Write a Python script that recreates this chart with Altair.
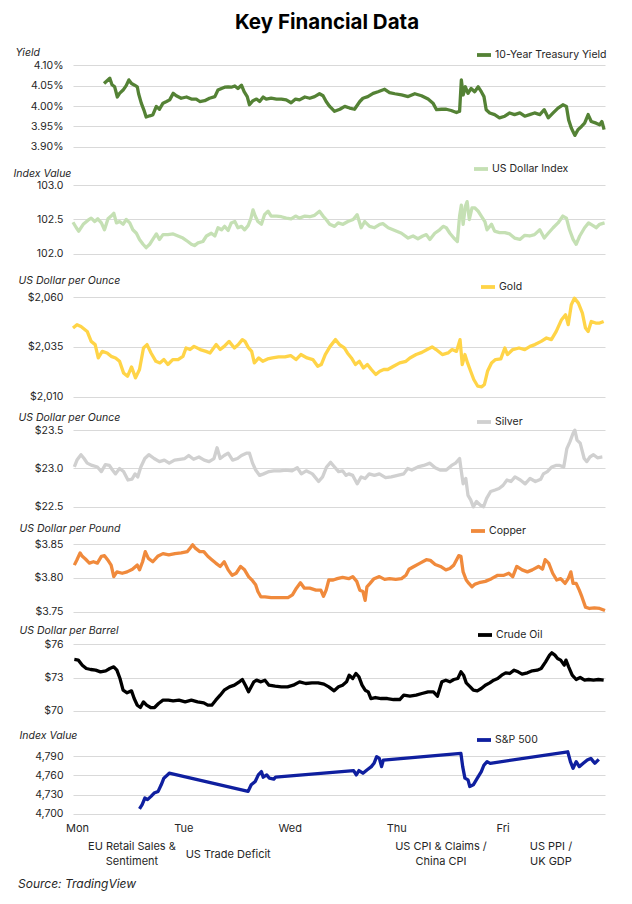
import json
import altair as alt
import pandas as pd

FONT = "Inter"
TEXT = "#262626"

title_text = "Key Financial Data"
source_text = "Source: TradingView"
day_labels = ["Mon", "Tue", "Wed", "Thu", "Fri"]
day_hours = [0, 24, 48, 72, 96]
event_labels = ["EU Retail Sales &\nSentiment", "US Trade Deficit",
                "US CPI & Claims /\nChina CPI", "US PPI /\nUK GDP"]
event_hours = [13.3, 35.0, 83.0, 107.8]

# (hours since Monday 00:00, value)
treasury = [(7.0,4.055),(7.5,4.060),(8.3,4.068),(8.8,4.052),(9.4,4.047),(10.0,4.022),(10.5,4.031),(11.3,4.039),(12.0,4.050),(12.6,4.064),(13.2,4.055),(13.9,4.051),(14.5,4.047),(14.8,4.030),(15.4,4.007),(16.0,3.990),(16.5,3.973),(17.3,3.976),(18.0,3.978),(18.8,3.999),(19.5,3.992),(20.3,4.007),(21.1,4.011),(21.8,4.015),(22.6,4.031),(23.3,4.025),(24.4,4.019),(25.6,4.022),(26.7,4.017),(27.8,4.017),(28.6,4.011),(29.7,4.013),(30.8,4.019),(32.0,4.023),(32.7,4.039),(33.5,4.043),(34.2,4.046),(35.0,4.047),(35.7,4.046),(36.5,4.049),(37.2,4.043),(38.0,4.051),(38.6,4.035),(39.3,4.023),(39.8,4.003),(40.6,4.013),(41.4,4.017),(42.1,4.011),(42.9,4.022),(43.6,4.017),(44.7,4.019),(45.9,4.017),(47.0,4.017),(48.1,4.015),(49.2,4.008),(50.2,4.017),(51.1,4.015),(52.3,4.022),(53.4,4.019),(54.5,4.023),(55.6,4.030),(56.4,4.025),(57.1,4.011),(57.9,3.999),(59.0,3.987),(60.2,3.992),(61.3,3.999),(62.4,3.995),(63.5,3.992),(64.7,4.011),(65.4,4.019),(66.5,4.023),(67.7,4.031),(68.8,4.035),(70.3,4.041),(71.4,4.033),(72.6,4.030),(74.1,4.027),(75.6,4.023),(77.1,4.030),(78.6,4.025),(80.1,4.017),(81.2,4.007),(82.0,3.991),(83.1,3.992),(84.2,3.992),(85.3,3.989),(86.5,3.984),(87.2,3.987),(87.6,4.064),(88.0,4.027),(88.5,4.047),(89.1,4.031),(89.8,4.043),(90.6,4.035),(91.4,4.047),(92.1,4.035),(92.7,4.023),(93.2,3.991),(94.0,3.983),(95.1,3.979),(96.2,3.971),(97.4,3.975),(98.5,3.983),(99.6,3.979),(100.8,3.983),(101.9,3.975),(103.0,3.979),(104.1,3.983),(105.3,3.979),(106.3,3.991),(107.2,3.971),(108.3,3.983),(109.4,3.995),(110.5,4.003),(111.3,3.999),(111.8,3.966),(112.4,3.946),(113.2,3.928),(113.9,3.942),(114.7,3.950),(115.4,3.958),(116.2,3.979),(116.9,3.962),(118.0,3.958),(118.8,3.954),(119.3,3.962),(119.8,3.942)]

dollar_index = [(0.0,102.46),(0.75,102.38),(1.3,102.33),(2.3,102.43),(3.4,102.49),(4.1,102.52),(4.9,102.47),(5.6,102.51),(6.4,102.45),(7.1,102.35),(7.9,102.51),(8.6,102.55),(9.2,102.59),(9.8,102.45),(10.5,102.47),(11.3,102.43),(12.0,102.50),(12.8,102.45),(13.5,102.35),(14.3,102.30),(15.0,102.21),(15.8,102.14),(16.5,102.09),(17.3,102.14),(18.0,102.21),(18.8,102.29),(19.5,102.21),(20.3,102.28),(21.4,102.28),(22.6,102.29),(23.7,102.26),(24.8,102.23),(25.9,102.18),(26.7,102.14),(27.4,102.12),(28.2,102.16),(29.3,102.18),(30.1,102.26),(31.2,102.30),(32.0,102.26),(32.7,102.38),(33.5,102.35),(34.2,102.40),(35.0,102.34),(35.7,102.45),(36.5,102.47),(37.2,102.38),(38.0,102.40),(38.7,102.35),(39.5,102.41),(40.1,102.51),(40.6,102.64),(41.1,102.55),(41.7,102.47),(42.5,102.43),(43.2,102.57),(44.0,102.62),(44.7,102.55),(45.9,102.55),(47.0,102.54),(48.1,102.52),(49.2,102.51),(50.2,102.55),(51.1,102.52),(52.3,102.55),(53.4,102.54),(54.5,102.56),(55.6,102.62),(56.4,102.55),(57.1,102.50),(57.9,102.43),(59.0,102.40),(59.8,102.45),(60.9,102.43),(62.0,102.47),(63.2,102.50),(64.1,102.57),(65.0,102.38),(65.8,102.47),(66.9,102.40),(68.0,102.38),(69.2,102.43),(69.9,102.44),(71.1,102.38),(72.6,102.34),(74.1,102.30),(75.6,102.23),(76.7,102.26),(77.8,102.22),(78.9,102.26),(79.7,102.28),(80.5,102.21),(81.6,102.30),(82.7,102.35),(83.5,102.40),(84.2,102.38),(85.0,102.30),(85.9,102.23),(86.7,102.18),(87.2,102.55),(87.6,102.71),(88.0,102.43),(88.5,102.69),(88.9,102.76),(89.4,102.50),(90.0,102.67),(90.6,102.67),(91.4,102.62),(92.1,102.55),(92.9,102.47),(93.4,102.35),(94.4,102.43),(95.1,102.33),(96.2,102.31),(97.4,102.31),(98.5,102.29),(99.6,102.23),(100.8,102.21),(101.9,102.27),(103.0,102.26),(104.1,102.28),(105.3,102.35),(106.3,102.23),(107.2,102.30),(108.3,102.38),(109.4,102.45),(110.5,102.55),(111.3,102.52),(112.0,102.35),(112.8,102.21),(113.5,102.14),(114.3,102.26),(115.4,102.38),(116.3,102.45),(117.3,102.41),(118.0,102.38),(118.8,102.43),(119.9,102.45)]

gold = [(0.0,2044.5),(0.9,2046.2),(1.8,2045.3),(3.2,2042.8),(4.1,2037.8),(5.0,2036.2),(5.7,2029.5),(6.6,2032.8),(7.7,2032.0),(8.6,2030.3),(9.6,2029.5),(10.5,2027.8),(11.4,2022.0),(12.3,2020.3),(13.2,2025.0),(14.1,2019.5),(15.0,2023.7),(15.9,2034.5),(16.7,2036.2),(17.6,2032.0),(18.7,2027.8),(19.6,2027.0),(20.5,2028.7),(21.4,2026.2),(22.5,2028.7),(23.7,2028.7),(24.8,2030.3),(25.5,2034.5),(26.4,2033.7),(27.3,2035.3),(28.7,2033.7),(30.0,2032.8),(30.9,2032.0),(32.3,2036.2),(33.2,2033.7),(34.1,2035.3),(35.2,2037.8),(36.4,2034.5),(37.3,2036.2),(38.2,2038.7),(38.8,2037.8),(39.6,2034.5),(40.3,2032.8),(40.9,2027.0),(41.9,2029.5),(42.8,2027.8),(43.9,2029.0),(45.0,2029.5),(46.4,2030.0),(47.8,2030.0),(49.1,2030.7),(50.3,2028.7),(51.4,2031.2),(52.8,2029.5),(54.1,2028.7),(55.2,2025.3),(56.0,2026.2),(56.9,2031.2),(58.0,2035.3),(59.2,2038.7),(60.1,2036.2),(61.2,2034.5),(61.9,2032.0),(62.8,2029.5),(63.7,2026.2),(64.6,2027.8),(65.5,2024.5),(66.4,2026.2),(67.3,2023.7),(68.3,2021.2),(69.2,2022.8),(70.1,2023.7),(71.0,2023.7),(72.3,2025.3),(73.7,2027.0),(75.1,2027.8),(76.0,2029.5),(77.4,2031.2),(78.7,2032.3),(80.1,2034.0),(81.0,2035.0),(81.9,2033.7),(83.3,2031.2),(84.6,2032.0),(85.5,2033.7),(86.5,2032.8),(87.3,2038.7),(87.8,2026.2),(88.4,2031.2),(89.0,2027.0),(89.7,2022.8),(90.4,2018.7),(91.3,2015.3),(92.2,2015.0),(92.8,2016.2),(93.5,2022.8),(94.4,2027.0),(95.3,2028.7),(96.5,2029.0),(97.4,2034.5),(98.0,2031.2),(99.2,2033.7),(100.6,2034.5),(101.9,2033.7),(103.1,2035.3),(104.2,2036.2),(105.6,2037.8),(106.8,2039.5),(107.9,2038.7),(109.0,2042.8),(110.2,2048.7),(111.1,2051.2),(111.7,2046.2),(112.4,2056.2),(113.1,2059.5),(114.0,2057.0),(114.9,2052.0),(115.6,2044.5),(116.2,2042.8),(116.9,2047.8),(117.9,2047.0),(118.8,2047.0),(119.7,2047.8)]

silver = [(0.3,23.02),(0.9,23.11),(1.8,23.18),(2.5,23.13),(3.2,23.07),(4.3,23.04),(5.5,23.02),(6.4,22.96),(7.3,23.05),(8.2,23.04),(8.9,22.98),(9.6,22.93),(10.5,23.00),(11.4,22.96),(12.4,22.85),(13.3,22.86),(14.0,22.93),(14.6,22.89),(15.3,23.02),(16.2,23.13),(17.1,23.18),(18.3,23.13),(19.5,23.09),(20.6,23.11),(21.7,23.07),(22.9,23.11),(24.1,23.12),(25.2,23.13),(26.1,23.17),(27.2,23.12),(28.4,23.15),(29.6,23.11),(30.7,23.09),(31.8,23.13),(32.5,23.27),(33.2,23.13),(34.1,23.17),(35.0,23.20),(36.0,23.11),(37.1,23.13),(38.0,23.17),(39.1,23.20),(39.8,23.20),(40.5,23.07),(41.2,22.98),(42.1,22.91),(43.0,22.93),(44.2,22.96),(45.3,22.97),(46.7,22.97),(48.0,22.98),(49.4,22.97),(50.6,23.01),(51.5,22.93),(52.6,22.97),(54.0,22.93),(55.4,22.83),(56.3,22.89),(57.2,23.02),(58.1,23.08),(59.0,23.02),(59.9,22.96),(60.8,22.97),(61.6,22.91),(62.2,22.93),(63.1,22.91),(64.1,22.80),(65.0,22.89),(65.9,22.87),(66.8,22.93),(68.0,22.91),(69.1,22.93),(70.5,22.88),(71.8,22.89),(73.2,22.91),(74.6,22.93),(75.5,23.00),(76.4,22.98),(77.8,23.02),(79.1,23.04),(80.5,23.07),(81.7,23.01),(82.8,22.98),(84.2,22.98),(85.4,23.04),(86.3,23.07),(87.2,23.13),(87.6,22.96),(88.0,22.80),(88.6,22.87),(89.1,22.65),(89.7,22.59),(90.3,22.50),(91.0,22.57),(91.9,22.52),(92.6,22.50),(93.3,22.61),(94.2,22.70),(95.2,22.72),(96.1,22.74),(97.0,22.78),(97.9,22.85),(98.8,22.83),(99.7,22.89),(100.9,22.85),(102.0,22.80),(103.1,22.87),(104.3,22.83),(105.5,22.86),(106.1,22.93),(107.0,22.96),(108.0,23.02),(108.9,23.04),(109.8,23.04),(110.7,23.02),(111.4,23.26),(112.1,23.35),(112.8,23.46),(113.2,23.50),(113.7,23.37),(114.4,23.33),(115.3,23.13),(115.9,23.09),(116.6,23.15),(117.4,23.18),(118.3,23.14),(119.4,23.15)]

copper = [(0.3,3.819),(0.9,3.827),(1.6,3.837),(2.1,3.832),(2.8,3.828),(3.7,3.822),(4.6,3.824),(5.5,3.822),(6.4,3.832),(7.1,3.833),(7.8,3.827),(8.6,3.819),(9.2,3.802),(9.9,3.809),(11.1,3.807),(12.2,3.809),(13.4,3.813),(14.5,3.819),(15.0,3.812),(15.7,3.824),(16.3,3.839),(17.0,3.829),(18.0,3.824),(19.1,3.832),(20.3,3.836),(21.6,3.834),(23.0,3.836),(24.4,3.837),(25.8,3.839),(26.4,3.844),(27.0,3.849),(27.6,3.844),(28.6,3.839),(29.5,3.839),(30.4,3.832),(31.3,3.827),(32.2,3.822),(33.2,3.817),(34.1,3.824),(35.0,3.812),(35.9,3.804),(36.8,3.807),(37.8,3.817),(38.7,3.812),(39.6,3.802),(40.5,3.796),(41.2,3.790),(41.7,3.780),(42.4,3.772),(43.3,3.772),(44.7,3.771),(46.1,3.771),(47.4,3.771),(48.5,3.771),(49.5,3.775),(50.4,3.785),(51.3,3.793),(52.2,3.785),(53.4,3.785),(54.8,3.782),(55.9,3.782),(56.5,3.773),(57.1,3.782),(57.7,3.797),(58.7,3.797),(59.6,3.799),(60.8,3.801),(62.2,3.799),(63.1,3.802),(64.0,3.795),(64.7,3.782),(65.4,3.780),(65.9,3.767),(66.3,3.787),(67.0,3.792),(67.9,3.799),(69.1,3.802),(70.3,3.798),(71.4,3.799),(72.8,3.798),(74.1,3.799),(75.1,3.804),(75.8,3.813),(76.9,3.817),(78.3,3.822),(79.7,3.827),(80.6,3.826),(81.7,3.820),(82.9,3.817),(84.1,3.812),(85.0,3.814),(85.9,3.819),(87.0,3.833),(87.5,3.832),(88.0,3.809),(88.7,3.797),(89.3,3.792),(90.0,3.787),(90.7,3.791),(91.6,3.793),(93.0,3.795),(94.4,3.799),(95.8,3.804),(97.2,3.804),(98.3,3.807),(99.2,3.802),(100.1,3.817),(101.3,3.812),(102.5,3.809),(103.6,3.812),(105.0,3.817),(105.9,3.813),(106.5,3.827),(107.3,3.822),(108.2,3.807),(109.1,3.797),(110.0,3.799),(111.0,3.792),(111.7,3.799),(112.3,3.809),(112.8,3.792),(113.5,3.792),(114.2,3.782),(114.8,3.772),(115.6,3.757),(116.5,3.755),(117.6,3.756),(118.8,3.755),(120.0,3.752)]

crude_oil = [(0.3,74.62),(1.2,74.56),(2.1,74.11),(3.0,73.81),(4.0,73.72),(5.1,73.66),(6.2,73.51),(7.4,73.60),(8.3,73.81),(9.2,73.96),(9.9,73.66),(10.6,72.91),(11.3,71.86),(12.2,71.62),(13.2,71.80),(13.8,71.11),(14.5,70.51),(15.2,70.30),(15.9,70.81),(16.6,70.51),(17.5,70.30),(18.4,70.30),(19.3,70.66),(20.3,70.96),(21.5,70.96),(22.6,70.90),(23.9,70.96),(25.3,70.81),(26.7,70.96),(28.1,70.81),(29.5,70.72),(30.4,70.51),(31.3,70.51),(32.2,70.96),(33.2,71.41),(34.1,71.86),(35.3,72.16),(36.4,72.31),(37.5,72.61),(38.2,72.82),(39.0,72.22),(39.6,71.71),(40.2,72.16),(40.8,72.61),(41.4,72.76),(42.4,72.61),(43.3,72.76),(44.2,72.31),(45.6,72.22),(47.0,72.16),(48.4,72.16),(49.7,72.31),(51.1,72.61),(52.5,72.46),(53.9,72.52),(55.3,72.52),(56.6,72.40),(57.7,72.16),(58.9,71.80),(59.9,72.16),(60.8,72.31),(61.7,72.61),(62.3,73.21),(63.1,72.91),(63.8,73.36),(64.5,73.06),(65.2,72.31),(65.9,71.86),(66.6,71.71),(67.2,71.11),(68.2,71.20),(69.5,71.11),(70.9,71.11),(72.3,71.02),(73.7,71.02),(74.6,71.41),(76.0,71.32),(77.4,71.41),(78.7,71.56),(80.1,71.71),(81.3,71.71),(82.2,71.32),(83.2,72.61),(84.1,72.76),(85.0,72.61),(85.9,72.82),(86.8,72.91),(87.5,73.51),(88.1,73.21),(88.7,72.52),(89.6,72.16),(90.3,71.86),(91.2,71.80),(92.1,72.01),(93.0,72.31),(94.0,72.52),(94.9,72.76),(95.8,72.91),(96.7,73.21),(97.6,73.42),(98.5,73.36),(99.5,73.66),(100.4,73.51),(101.3,73.30),(102.5,73.42),(103.6,73.60),(104.7,73.66),(105.6,73.81),(106.6,74.41),(107.5,75.01),(108.0,75.22),(108.7,75.01),(109.3,74.71),(110.0,74.56),(110.8,74.11),(111.2,74.56),(111.8,73.96),(112.6,73.21),(113.5,72.82),(114.4,73.00),(115.4,72.76),(116.3,72.82),(117.4,72.76),(118.5,72.82),(119.7,72.76)]

sp500 = [(15.0,4707.8),(15.6,4714.4),(16.2,4724.7),(16.8,4722.2),(17.6,4727.3),(18.3,4732.4),(19.2,4735.0),(19.9,4745.3),(20.5,4755.6),(21.1,4759.2),(21.7,4763.3),
         (39.5,4735.0),(40.2,4745.3),(41.1,4750.4),(41.8,4760.7),(42.5,4765.8),(42.9,4757.1),(43.7,4760.7),(44.3,4755.6),(45.3,4754.0),(45.7,4757.1),
         (63.3,4767.4),(63.9,4760.7),(64.5,4767.4),(65.4,4763.3),(66.3,4768.4),(67.3,4773.6),(67.9,4778.7),(68.5,4789.0),(69.1,4786.4),(69.6,4773.6),(70.0,4783.8),
         (87.5,4794.1),(87.9,4773.6),(88.4,4755.6),(89.1,4753.0),(89.5,4742.7),(90.3,4745.3),(91.2,4755.6),(92.1,4765.8),(92.7,4776.1),(93.4,4781.3),(94.1,4778.7),
         (111.6,4796.7),(112.2,4781.3),(112.8,4771.0),(113.5,4781.3),(114.2,4773.6),(115.1,4778.7),(116.0,4783.8),(116.8,4786.4),(117.7,4778.7),(118.6,4784.9)]

# ---- layout (page pixels) ----
PLOT_LEFT = 75
PLOT_W = 532
SPACING = 32

panels = [
    dict(data=treasury, name="10-Year Treasury Yield", color="#548235", title="Yield",
         ticks=[3.90, 3.95, 4.00, 4.05, 4.10], lo=3.90, hi=4.10, top=65, bottom=147,
         tx=17, ty=52, lx=477, ly=53, expr="format(datum.value, '.2f') + '%'"),
    dict(data=dollar_index, name="US Dollar Index", color="#c5e0b4", title="Index Value",
         ticks=[102.0, 102.5, 103.0], lo=102.0, hi=103.0, top=185, bottom=254,
         tx=15, ty=173, lx=474, ly=167, fmt=".1f"),
    dict(data=gold, name="Gold", color="#ffd447", title="US Dollar per Ounce",
         ticks=[2010, 2035, 2060], lo=2010, hi=2060, top=297, bottom=397,
         tx=20, ty=280, lx=481, ly=285, fmt="$,.0f"),
    dict(data=silver, name="Silver", color="#d0d0d0", title="US Dollar per Ounce",
         ticks=[22.5, 23.0, 23.5], lo=22.5, hi=23.5, top=430, bottom=507,
         tx=20, ty=417, lx=477, ly=420, fmt="$.1f"),
    dict(data=copper, name="Copper", color="#f08a3c", title="US Dollar per Pound",
         ticks=[3.75, 3.80, 3.85], lo=3.75, hi=3.85, top=544, bottom=612,
         tx=21, ty=528, lx=471, ly=529, fmt="$.2f"),
    dict(data=crude_oil, name="Crude Oil", color="#000000", title="US Dollar per Barrel",
         ticks=[70, 73, 76], lo=70, hi=76, top=644, bottom=711,
         tx=21, ty=630, lx=478, ly=633, fmt="$.0f"),
    dict(data=sp500, name="S&P 500", color="#0f1f9f", title="Index Value",
         ticks=[4700, 4730, 4760, 4790], lo=4700, hi=4790, top=756, bottom=814,
         tx=21, ty=735, lx=477, ly=738, fmt=",.0f"),
]

day_expr = json.dumps(day_labels) + "[round(datum.value / 24)]"

charts = []
prev_bottom = None
for i, p in enumerate(panels):
    frame_top = p["top"] if prev_bottom is None else prev_bottom + SPACING
    prev_bottom = p["bottom"]
    span = p["bottom"] - p["top"]
    ext = (p["top"] - frame_top) / span * (p["hi"] - p["lo"])
    eps = (p["hi"] - p["lo"]) * 0.002
    height = p["bottom"] - frame_top
    last = i == len(panels) - 1

    df = pd.DataFrame(p["data"], columns=["h", "v"])
    df["s"] = p["name"]

    yaxis_kw = dict(values=p["ticks"], title=p["title"], titleAngle=0, titleAlign="left",
                    titleBaseline="middle", titleX=p["tx"] - PLOT_LEFT, titleY=p["ty"] - frame_top,
                    grid=True, domain=False, ticks=False)
    if "expr" in p:
        yaxis_kw["labelExpr"] = p["expr"]
    else:
        yaxis_kw["format"] = p["fmt"]

    if last:
        xaxis = alt.Axis(values=day_hours, labelExpr=day_expr, grid=False, domain=False,
                         ticks=False, title=None, labelPadding=8, tickOffset=4,
                         labelFlush=False, labelFontSize=11)
    else:
        xaxis = None

    line = alt.Chart(df).mark_line(strokeWidth=3.3, strokeJoin="round").encode(
        x=alt.X("h:Q", scale=alt.Scale(domain=[0, 120], nice=False, zero=False), axis=xaxis),
        y=alt.Y("v:Q", scale=alt.Scale(domain=[p["lo"] - eps, p["hi"] + ext + eps], nice=False, zero=False),
                axis=alt.Axis(**yaxis_kw)),
        color=alt.Color("s:N", scale=alt.Scale(domain=[p["name"]], range=[p["color"]]),
                        legend=alt.Legend(orient="none", legendX=p["lx"] - PLOT_LEFT,
                                          legendY=p["ly"] - 7 - frame_top, title=None,
                                          symbolType="stroke", symbolSize=196,
                                          symbolStrokeWidth=3.8, labelOffset=2, padding=0)),
    )

    if last:
        ev = pd.DataFrame({"h": event_hours, "label": event_labels})
        ev["two"] = ev["label"].str.contains("\n")
        ev_style = dict(lineBreak="\n", fontSize=11, baseline="middle", align="center",
                        lineHeight=15, color=TEXT)
        events2 = alt.Chart(ev[ev["two"]]).mark_text(**ev_style).encode(
            x=alt.X("h:Q"), y=alt.value(847 - frame_top), text="label:N")
        events1 = alt.Chart(ev[~ev["two"]]).mark_text(**ev_style).encode(
            x=alt.X("h:Q"), y=alt.value(855 - frame_top), text="label:N")
        src = alt.Chart(pd.DataFrame({"t": [source_text]})).mark_text(
            align="left", baseline="middle", fontSize=12, fontStyle="italic", color=TEXT).encode(
            x=alt.value(20 - PLOT_LEFT), y=alt.value(884 - frame_top), text="t:N")
        layer = alt.layer(line, events2, events1, src)
    else:
        layer = line

    charts.append(layer.properties(width=PLOT_W, height=height))

chart = alt.vconcat(*charts, spacing=SPACING, bounds="flush",
                    title=alt.TitleParams(title_text, fontSize=20.5, fontWeight="bold", font=FONT,
                                          color="#000000", anchor="middle", offset=13, dx=17)
                    ).resolve_scale(color="independent", x="independent", y="independent"
                    ).resolve_legend(color="independent"
                    ).properties(padding={"left": 5, "right": 5, "top": 4, "bottom": 5}
                    ).configure(font=FONT, background="white"
                    ).configure_view(stroke=None
                    ).configure_axis(labelFont=FONT, titleFont=FONT, labelFontSize=10.5,
                                     labelColor=TEXT, titleColor=TEXT, titleFontSize=10.5,
                                     titleFontStyle="italic", titleFontWeight="normal",
                                     gridColor="#d9d9d9", gridWidth=1, labelPadding=10
                    ).configure_legend(labelFont=FONT, labelFontSize=10.5, labelColor=TEXT)

chart.save("out.html", embed_options={"renderer": "svg", "actions": False})
